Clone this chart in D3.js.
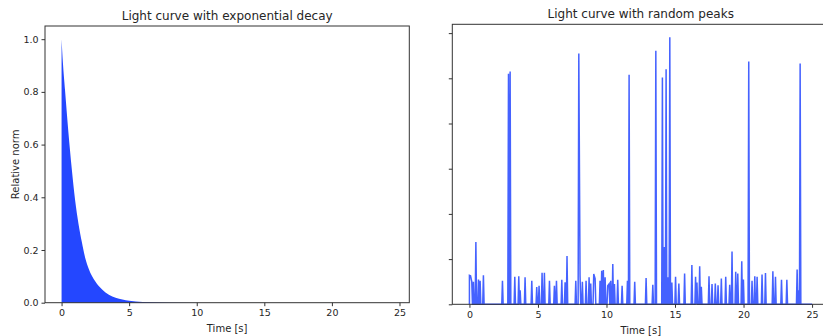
<!DOCTYPE html>
<html>
<head>
<meta charset="utf-8">
<script src="https://cdn.jsdelivr.net/npm/d3@7"></script>
<style>
  body { margin: 0; background: #fff; }
  svg { display: block; font-family: "DejaVu Sans", sans-serif; }
  .axis path, .axis line { stroke: #333; }
  .axis text { fill: #262626; font-size: 9.5px; font-family: "DejaVu Sans", sans-serif; }
  .title { font-size: 12px; fill: #262626; }
  .label { font-size: 10px; fill: #262626; }
</style>
</head>
<body>
<script>
// left panel: envelope of the decay
var decayTime = [0, 0.1, 0.25, 0.5, 0.75, 1, 1.25, 1.5, 1.75, 2, 2.5, 3, 3.5, 4, 4.5, 5, 6, 8, 12, 24.5];
var decayValue = [1.0, 0.91, 0.81, 0.65, 0.51, 0.39, 0.3, 0.23, 0.17, 0.13, 0.08, 0.05, 0.03, 0.019, 0.012, 0.007, 0.003, 0.001, 0, 0];
var decayTicks = [0, 0.2, 0.4, 0.6, 0.8, 1.0];

// right panel: spike positions and heights (arbitrary units, ticks are unlabeled)
var peakTime = [0, 0.08, 0.17, 0.29, 0.47, 0.66, 0.78, 1.02, 2.41, 2.85, 2.97, 3.31, 3.6, 3.7, 4.06, 4.55,
  4.91, 5.08, 5.3, 5.47, 5.84, 6.2, 6.35, 6.74, 6.98, 7.12, 7.76, 7.98, 8.07, 8.24, 8.51, 8.73, 8.85,
  9.07, 9.17, 9.53, 9.65, 9.77, 9.9, 10.09, 10.19, 10.31, 10.46, 10.58, 10.82, 11.14, 11.53, 11.65,
  12.06, 12.89, 13.38, 13.6, 14.08, 14.23, 14.35, 14.5, 14.62, 14.77, 15.04, 15.28, 15.7, 16.23, 16.5,
  16.6, 16.8, 16.92, 17.48, 17.7, 17.94, 18.14, 18.38, 18.7, 18.99, 19.16, 19.43, 19.58, 19.87, 19.99,
  20.38, 20.62, 20.82, 20.99, 21.35, 21.6, 22.14, 22.33, 22.77, 23.16, 23.91, 24.02, 24.13];
var peakValue = [0.64, 0.63, 0.5, 0.5, 1.38, 0.55, 0.52, 0.64, 0.52, 5.1, 5.15, 0.61, 0.62, 0.31, 0.6, 0.52,
  0.38, 0.41, 0.7, 0.7, 0.52, 0.41, 0.52, 0.54, 0.49, 1.07, 0.52, 5.55, 0.64, 0.5, 0.52, 0.6, 0.46,
  0.67, 0.57, 0.52, 0.74, 0.76, 0.6, 0.41, 0.45, 0.52, 0.89, 0.45, 0.54, 0.41, 0.52, 5.08,
  0.5, 0.58, 0.43, 5.61, 5.02, 1.27, 5.2, 0.6, 5.91, 0.48, 0.61, 0.46, 0.68, 0.87, 0.61,
  0.48, 0.84, 0.39, 0.62, 0.45, 0.46, 0.42, 0.57, 0.61, 0.43, 1.17, 0.72, 0.68, 0.95, 0.55,
  5.37, 0.52, 0.62, 0.61, 0.66, 0.69, 0.73, 0.61, 0.54, 0.54, 0.77, 0.31, 5.33];
var peakTicks = [0, 1, 2, 3, 4, 5, 6];
var timeTicks = [0, 5, 10, 15, 20, 25];
var step = 0.05;

var blue = "#2447ff";

var svg = d3.select("body").append("svg")
  .attr("width", 823)
  .attr("height", 336);

// ---------- left panel ----------
var left = {x0: 45, x1: 409.3, y0: 26, y1: 302.7};

var x1 = d3.scaleLinear().domain([-1.226, 25.726]).range([left.x0, left.x1]);
var y1 = d3.scaleLinear().domain([0, 1.05]).range([left.y1, left.y0]);

var decay = decayTime.map(function(t, i) { return [t, decayValue[i]]; });

var area = d3.area()
  .x(function(d) { return x1(d[0]); })
  .y0(y1(0))
  .y1(function(d) { return y1(d[1]); })
  .curve(d3.curveMonotoneX);

var g1 = svg.append("g");

g1.append("path")
  .datum(decay)
  .attr("fill", blue)
  .attr("d", area);

g1.append("g")
  .attr("class", "axis")
  .attr("transform", "translate(0," + left.y1 + ")")
  .call(d3.axisBottom(x1).tickValues(timeTicks).tickSize(3.5).tickPadding(3).tickSizeOuter(0))
  .select(".domain").remove();

g1.append("g")
  .attr("class", "axis")
  .attr("transform", "translate(" + left.x0 + ",0)")
  .call(d3.axisLeft(y1).tickValues(decayTicks).tickFormat(d3.format(".1f")).tickSize(3.5).tickPadding(3).tickSizeOuter(0))
  .select(".domain").remove();

g1.append("rect")
  .attr("x", left.x0).attr("y", left.y0)
  .attr("width", left.x1 - left.x0).attr("height", left.y1 - left.y0)
  .attr("fill", "none").attr("stroke", "#333").attr("stroke-width", 1);

g1.append("text")
  .attr("class", "title")
  .attr("x", (left.x0 + left.x1) / 2).attr("y", 20)
  .attr("text-anchor", "middle")
  .text("Light curve with exponential decay");

g1.append("text")
  .attr("class", "label")
  .attr("x", (left.x0 + left.x1) / 2).attr("y", 332)
  .attr("text-anchor", "middle")
  .text("Time [s]");

g1.append("text")
  .attr("class", "label")
  .attr("transform", "translate(19," + (left.y0 + left.y1) / 2 + ") rotate(-90)")
  .attr("text-anchor", "middle")
  .text("Relative norm");

// ---------- right panel ----------
var right = {x0: 452.3, x1: 829.2, y0: 24.3, y1: 304.3};

var x2 = d3.scaleLinear().domain([-1.25, 26.25]).range([right.x0, right.x1]);
var y2 = d3.scaleLinear().domain([0, 6.195]).range([right.y1, right.y0]);

// spikes rise from zero and fall back; close neighbours share a top
var series = [[0, 0]];
peakTime.forEach(function(t, i) {
  var prev = i > 0 ? peakTime[i - 1] : -1;
  var next = i < peakTime.length - 1 ? peakTime[i + 1] : 99;
  if (t - prev > 0.1 && t > 0) series.push([t - step, 0]);
  series.push([t, peakValue[i]]);
  if (next - t > 0.1) series.push([t + step, 0]);
});
series.push([25, 0]);

var line = d3.line()
  .x(function(d) { return x2(d[0]); })
  .y(function(d) { return y2(d[1]); });

var g2 = svg.append("g");

g2.append("path")
  .datum(series)
  .attr("fill", "none")
  .attr("stroke", blue)
  .attr("stroke-opacity", 0.85)
  .attr("stroke-width", 1.5)
  .attr("stroke-linejoin", "miter")
  .attr("d", line);

g2.append("g")
  .attr("class", "axis")
  .attr("transform", "translate(0," + right.y1 + ")")
  .call(d3.axisBottom(x2).tickValues(timeTicks).tickSize(3.5).tickPadding(3).tickSizeOuter(0))
  .select(".domain").remove();

g2.append("g")
  .attr("class", "axis")
  .attr("transform", "translate(" + right.x0 + ",0)")
  .call(d3.axisLeft(y2).tickValues(peakTicks).tickFormat("").tickSize(3.5).tickSizeOuter(0))
  .select(".domain").remove();

g2.append("rect")
  .attr("x", right.x0).attr("y", right.y0)
  .attr("width", right.x1 - right.x0).attr("height", right.y1 - right.y0)
  .attr("fill", "none").attr("stroke", "#333").attr("stroke-width", 1);

g2.append("text")
  .attr("class", "title")
  .attr("x", (right.x0 + right.x1) / 2).attr("y", 18)
  .attr("text-anchor", "middle")
  .text("Light curve with random peaks");

g2.append("text")
  .attr("class", "label")
  .attr("x", (right.x0 + right.x1) / 2).attr("y", 334)
  .attr("text-anchor", "middle")
  .text("Time [s]");
</script>
</body>
</html>
